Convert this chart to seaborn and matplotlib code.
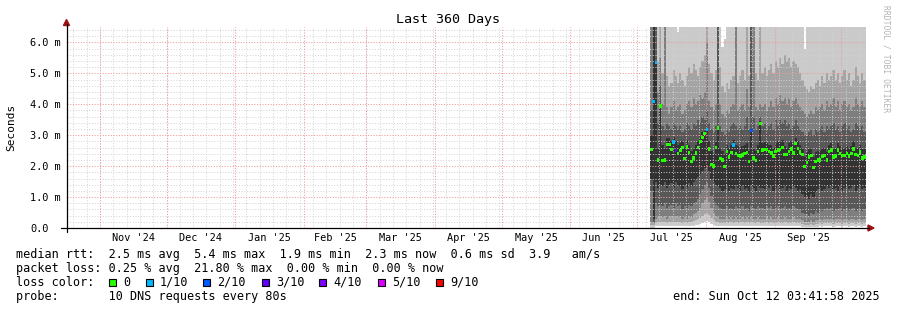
import numpy as np
import pandas as pd
import matplotlib
matplotlib.use("Agg")
import matplotlib.pyplot as plt
import matplotlib.dates as mdates
from matplotlib.patches import Rectangle, Polygon
from matplotlib.lines import Line2D
import seaborn as sns

# ---------------- data ----------------
view_start = pd.Timestamp("2024-10-17 03:41:58")
view_end = pd.Timestamp("2025-10-12 03:41:58")
first_day = "2025-07-07"

# sorted ping ranks (ms), one value per day from 2025-07-07
p10 = [7.0, 7.0, 7.0, 7.0, 7.0, 7.0, 7.0, 7.0, 7.0, 7.0,
       7.0, 7.0, 6.35, 7.0, 7.0, 7.0, 7.0, 7.0, 7.0, 7.0,
       7.0, 7.0, 7.0, 7.0, 7.0, 7.0, 7.0, 7.0, 7.0, 7.0,
       7.0, 7.0, 5.85, 6.1, 7.0, 7.0, 7.0, 7.0, 7.0, 7.0,
       7.0, 7.0, 7.0, 7.0, 7.0, 7.0, 7.0, 7.0, 7.0, 7.0,
       7.0, 7.0, 7.0, 7.0, 7.0, 7.0, 7.0, 7.0, 7.0, 7.0,
       7.0, 7.0, 7.0, 7.0, 7.0, 7.0, 7.0, 7.0, 7.0, 5.8,
       7.0, 7.0, 7.0, 7.0, 7.0, 7.0, 7.0, 7.0, 7.0, 7.0,
       7.0, 7.0, 7.0, 7.0, 7.0, 7.0, 7.0, 7.0, 7.0, 7.0,
       7.0, 7.0, 7.0, 7.0, 7.0, 7.0, 7.0, 7.0]
p9 = [7.0, 7.0, 7.0, 5.4, 7.0, 5.0, 4.8, 4.9, 4.6, 4.7,
      5.1, 4.9, 4.7, 5.0, 4.8, 4.6, 4.9, 5.2, 5.0, 5.3,
      5.1, 4.9, 5.2, 5.4, 5.6, 7.0, 5.3, 5.0, 4.8, 5.1,
      7.0, 5.2, 4.6, 4.4, 4.7, 4.5, 4.8, 4.9, 7.0, 4.7,
      4.9, 5.1, 4.8, 7.0, 4.9, 7.0, 7.0, 5.0, 4.8, 7.0,
      5.0, 5.2, 4.9, 5.1, 5.3, 5.0, 5.4, 5.2, 5.5, 5.3,
      5.6, 5.4, 5.5, 5.2, 5.4, 5.3, 5.2, 5.0, 4.8, 4.6,
      4.5, 4.4, 4.6, 4.5, 4.7, 4.8, 4.6, 4.9, 4.7, 5.0,
      4.8, 4.9, 5.1, 4.8, 5.0, 4.7, 4.9, 5.1, 4.8, 5.0,
      4.6, 4.8, 5.2, 4.9, 4.7, 5.0, 4.8, 5.1]
p8 = [7.0, 7.0, 7.0, 4.4, 5.5, 4.0, 7.0, 3.9, 3.7, 3.9,
      4.1, 3.8, 3.9, 4.0, 3.7, 3.8, 4.0, 4.1, 3.9, 4.2,
      4.0, 4.1, 4.3, 4.2, 4.4, 6.0, 4.1, 3.9, 3.8, 4.0,
      7.0, 4.0, 3.7, 3.6, 3.8, 3.7, 3.9, 4.0, 7.0, 3.8,
      3.9, 4.0, 3.8, 4.5, 3.9, 7.0, 7.0, 3.9, 3.8, 4.0,
      3.9, 4.0, 3.8, 3.9, 4.1, 3.9, 4.2, 4.0, 4.3, 4.1,
      4.2, 4.0, 4.2, 3.9, 4.1, 4.2, 4.0, 3.9, 3.8, 3.7,
      3.6, 3.7, 3.8, 3.7, 3.9, 3.8, 3.9, 4.0, 3.8, 4.1,
      3.9, 4.0, 4.2, 3.9, 4.1, 3.8, 4.0, 4.1, 3.9, 4.0,
      3.8, 3.9, 4.2, 4.0, 3.9, 4.1, 3.9, 4.0]
p7 = [3.8, 7.0, 7.0, 3.4, 4.6, 3.3, 3.2, 3.4, 3.3, 3.2,
      3.4, 3.3, 3.2, 3.3, 3.1, 3.2, 3.4, 3.3, 3.2, 3.4,
      3.3, 3.5, 3.4, 3.6, 3.5, 3.8, 3.4, 3.2, 3.1, 3.3,
      7.0, 3.3, 3.1, 3.0, 3.2, 3.1, 3.3, 3.4, 3.3, 3.2,
      3.3, 3.2, 3.3, 3.6, 3.2, 7.0, 3.6, 3.2, 3.3, 3.6,
      3.3, 3.4, 3.2, 3.3, 3.4, 3.2, 3.5, 3.3, 3.5, 3.4,
      3.5, 3.3, 3.4, 3.2, 3.3, 3.5, 3.3, 3.2, 3.1, 3.0,
      3.0, 3.1, 3.2, 3.0, 3.2, 3.1, 3.2, 3.3, 3.1, 3.3,
      3.2, 3.3, 3.4, 3.2, 3.3, 3.1, 3.3, 3.4, 3.2, 3.3,
      3.1, 3.2, 3.4, 3.3, 3.2, 3.3, 3.1, 3.2]
p6 = [3.0, 7.0, 5.4, 2.6, 4.0, 2.7, 2.6, 2.9, 2.9, 2.8,
      2.95, 2.8, 2.7, 2.75, 2.8, 2.6, 2.85, 2.7, 2.5, 2.6,
      2.7, 2.8, 2.95, 3.1, 3.15, 3.25, 2.8, 2.5, 2.4, 2.8,
      3.3, 2.6, 2.5, 2.4, 2.7, 2.6, 2.7, 2.85, 2.7, 2.65,
      2.6, 2.65, 2.7, 2.75, 2.5, 3.2, 2.6, 2.5, 2.7, 3.45,
      2.75, 2.8, 2.75, 2.7, 2.7, 2.6, 2.75, 2.8, 2.8, 2.85,
      2.65, 2.6, 2.75, 2.8, 2.7, 2.9, 2.8, 2.7, 2.6, 2.3,
      2.45, 2.55, 2.6, 2.3, 2.45, 2.5, 2.5, 2.6, 2.6, 2.45,
      2.7, 2.75, 2.55, 2.6, 2.75, 2.65, 2.6, 2.6, 2.65, 2.6,
      2.65, 2.8, 2.6, 2.6, 2.7, 2.55, 2.55, 2.55]
p5 = [1.6, 0.3, 1.5, 1.3, 1.4, 1.35, 1.5, 1.3, 1.4, 1.45,
      1.3, 1.5, 1.4, 1.35, 1.25, 1.4, 1.3, 1.45, 1.35, 1.5,
      1.55, 1.65, 1.75, 1.85, 1.95, 2.05, 1.85, 1.6, 1.45, 1.4,
      1.35, 1.3, 1.2, 1.25, 1.35, 1.2, 1.3, 1.25, 1.4, 1.3,
      1.2, 1.35, 1.25, 1.3, 1.15, 1.4, 1.3, 1.2, 1.35, 1.3,
      1.3, 1.25, 1.4, 1.3, 1.35, 1.2, 1.3, 1.4, 1.25, 1.3,
      1.35, 1.2, 1.3, 1.25, 1.35, 1.3, 1.2, 1.25, 1.1, 1.0,
      1.05, 0.95, 1.1, 1.0, 1.15, 1.25, 1.3, 1.2, 1.25, 1.35,
      1.3, 1.35, 1.25, 1.3, 1.2, 1.35, 1.2, 1.3, 1.35, 1.25,
      1.3, 1.4, 1.2, 1.3, 1.35, 1.25, 1.3, 1.35]
p4 = [1.2, 0.2, 0.8, 0.7, 0.75, 0.7, 0.8, 0.65, 0.7, 0.75,
      0.65, 0.8, 0.7, 0.75, 0.6, 0.7, 0.65, 0.75, 0.7, 0.8,
      0.85, 0.95, 1.1, 1.25, 1.4, 1.5, 1.3, 1.05, 0.85, 0.75,
      0.7, 0.65, 0.6, 0.6, 0.7, 0.6, 0.65, 0.6, 0.7, 0.65,
      0.6, 0.7, 0.6, 0.65, 0.55, 0.7, 0.65, 0.6, 0.7, 0.65,
      0.65, 0.6, 0.7, 0.65, 0.7, 0.6, 0.65, 0.7, 0.6, 0.65,
      0.7, 0.6, 0.65, 0.6, 0.7, 0.65, 0.6, 0.6, 0.5, 0.45,
      0.45, 0.4, 0.5, 0.45, 0.55, 0.5, 0.6, 0.55, 0.6, 0.65,
      0.6, 0.65, 0.55, 0.6, 0.6, 0.65, 0.55, 0.6, 0.65, 0.55,
      0.6, 0.65, 0.55, 0.6, 0.6, 0.55, 0.6, 0.6]
p3 = [0.2, 0.15, 0.3, 0.35, 0.4, 0.35, 0.4, 0.3, 0.35, 0.4,
      0.35, 0.4, 0.35, 0.4, 0.3, 0.35, 0.3, 0.4, 0.35, 0.45,
      0.5, 0.55, 0.65, 0.8, 0.9, 1.0, 0.85, 0.65, 0.5, 0.4,
      0.35, 0.3, 0.3, 0.3, 0.35, 0.3, 0.35, 0.3, 0.35, 0.3,
      0.3, 0.35, 0.3, 0.35, 0.3, 0.35, 0.3, 0.3, 0.35, 0.3,
      0.3, 0.3, 0.35, 0.3, 0.35, 0.3, 0.3, 0.35, 0.3, 0.3,
      0.35, 0.3, 0.3, 0.3, 0.35, 0.3, 0.3, 0.3, 0.25, 0.2,
      0.2, 0.2, 0.25, 0.2, 0.25, 0.25, 0.3, 0.25, 0.3, 0.3,
      0.3, 0.3, 0.25, 0.3, 0.3, 0.3, 0.25, 0.3, 0.3, 0.25,
      0.3, 0.3, 0.25, 0.3, 0.3, 0.25, 0.3, 0.3]
p2 = [0.1, 0.1, 0.15, 0.18, 0.2, 0.18, 0.2, 0.16, 0.18, 0.2,
      0.18, 0.2, 0.18, 0.2, 0.16, 0.18, 0.16, 0.2, 0.18, 0.22,
      0.25, 0.28, 0.32, 0.4, 0.45, 0.5, 0.42, 0.32, 0.25, 0.2,
      0.18, 0.16, 0.15, 0.16, 0.18, 0.15, 0.18, 0.16, 0.18, 0.16,
      0.16, 0.18, 0.16, 0.18, 0.15, 0.18, 0.16, 0.16, 0.18, 0.16,
      0.16, 0.16, 0.18, 0.16, 0.18, 0.16, 0.16, 0.18, 0.16, 0.16,
      0.18, 0.16, 0.16, 0.16, 0.18, 0.16, 0.16, 0.15, 0.13, 0.1,
      0.1, 0.1, 0.12, 0.1, 0.12, 0.12, 0.15, 0.12, 0.15, 0.15,
      0.15, 0.15, 0.12, 0.15, 0.15, 0.15, 0.12, 0.15, 0.15, 0.12,
      0.15, 0.15, 0.12, 0.15, 0.15, 0.12, 0.15, 0.15]
p1 = [0.0, 0.0, 0.05, 0.06, 0.07, 0.06, 0.07, 0.05, 0.06, 0.07,
      0.06, 0.07, 0.06, 0.07, 0.05, 0.06, 0.05, 0.07, 0.06, 0.08,
      0.09, 0.1, 0.12, 0.16, 0.19, 0.22, 0.18, 0.13, 0.1, 0.08,
      0.06, 0.05, 0.05, 0.05, 0.06, 0.05, 0.06, 0.05, 0.06, 0.05,
      0.05, 0.06, 0.05, 0.06, 0.05, 0.06, 0.05, 0.05, 0.06, 0.05,
      0.05, 0.05, 0.06, 0.05, 0.06, 0.05, 0.05, 0.06, 0.05, 0.05,
      0.06, 0.05, 0.05, 0.05, 0.06, 0.05, 0.05, 0.05, 0.04, 0.03,
      0.03, 0.03, 0.04, 0.03, 0.04, 0.04, 0.05, 0.04, 0.05, 0.05,
      0.05, 0.05, 0.04, 0.05, 0.05, 0.05, 0.04, 0.05, 0.05, 0.04,
      0.05, 0.05, 0.04, 0.05, 0.05, 0.04, 0.05, 0.05]
median_ms = [2.54, 4.1, 5.35, 2.2, 3.95, 2.18, 2.2, 2.7, 2.7, 2.54,
             2.78, 2.5, 2.4, 2.5, 2.6, 2.25, 2.62, 2.45, 2.15, 2.27,
             2.42, 2.6, 2.8, 2.92, 3.05, 3.19, 2.55, 2.05, 2.0, 2.6,
             3.24, 2.25, 2.2, 1.98, 2.48, 2.3, 2.45, 2.68, 2.4, 2.35,
             2.32, 2.36, 2.41, 2.44, 2.16, 3.16, 2.27, 2.19, 2.48, 3.38,
             2.52, 2.53, 2.54, 2.48, 2.43, 2.33, 2.47, 2.52, 2.54, 2.6,
             2.38, 2.38, 2.48, 2.55, 2.42, 2.73, 2.57, 2.46, 2.38, 1.98,
             2.12, 2.3, 2.35, 1.95, 2.16, 2.2, 2.2, 2.32, 2.35, 2.2,
             2.48, 2.52, 2.3, 2.33, 2.52, 2.41, 2.35, 2.35, 2.41, 2.33,
             2.41, 2.56, 2.38, 2.35, 2.46, 2.27, 2.3, 2.3]
loss_tenths = [0, 1, 1, 0, 0, 0, 0, 0, 0, 0,
               1, 3, 0, 0, 0, 0, 0, 0, 0, 0,
               0, 0, 0, 0, 0, 1, 0, 0, 0, 0,
               0, 0, 0, 0, 0, 0, 0, 1, 0, 0,
               0, 0, 0, 0, 0, 2, 0, 0, 0, 0,
               0, 0, 0, 0, 0, 0, 0, 0, 0, 0,
               0, 0, 0, 0, 0, 0, 0, 0, 0, 0,
               0, 0, 0, 0, 0, 0, 0, 0, 0, 0,
               0, 0, 0, 0, 0, 0, 0, 0, 0, 0,
               0, 0, 0, 0, 0, 0, 0, 0]

legend_levels = [0, 1, 2, 3, 4, 5, 9]
legend_labels = ["0", "1/10", "2/10", "3/10", "4/10", "5/10", "9/10"]
loss_palette = {0: "#26ff00", 1: "#00b8ff", 2: "#0059ff", 3: "#5e00ff",
                4: "#7e00ff", 5: "#dd00ff", 9: "#ff0000"}

y_ticks = [0, 1, 2, 3, 4, 5, 6]
y_tick_labels = ["0.0", "1.0 m", "2.0 m", "3.0 m", "4.0 m", "5.0 m", "6.0 m"]

title = "Last 360 Days"
stat_lines = [
    "median rtt:  2.5 ms avg  5.4 ms max  1.9 ms min  2.3 ms now  0.6 ms sd  3.9   am/s",
    "packet loss: 0.25 % avg  21.80 % max  0.00 % min  0.00 % now",
    "loss color:",
    "probe:       10 DNS requests every 80s",
]
end_text = "end: Sun Oct 12 03:41:58 2025"

# ---------------- style ----------------
sns.set_theme(style="white")
plt.rcParams["font.family"] = ["DejaVu Sans Mono", "DejaVu Sans"]

W, H = 897, 310
fig = plt.figure(figsize=(W / 100, H / 100), dpi=100)
fig.patch.set_facecolor("white")
L, R, T, B = 67, 866, 27, 228
ax = fig.add_axes([L / W, 1 - B / H, (R - L) / W, (B - T) / H])
ax.set_facecolor("white")
for s in ax.spines.values():
    s.set_visible(False)


def fx(px):
    return px / W


def fy(py):
    return 1 - py / H


# ---------------- smoke ----------------
days = pd.date_range(first_day, periods=len(median_ms), freq="D")
edges = mdates.date2num(list(days) + [view_end])


def ext(a):
    a = np.asarray(a, dtype=float)
    return np.append(a, a[-1])


smoke = [(p1, p10, "#cacaca"), (p2, p9, "#a4a4a4"), (p3, p8, "#7e7e7e"),
         (p4, p7, "#585858"), (p5, p6, "#323232")]
for i, (lo, hi, col) in enumerate(smoke):
    ax.fill_between(edges, ext(lo), ext(hi), step="post", color=col,
                    linewidth=0, zorder=1 + i * 0.1)

# ---------------- grid ----------------
x0 = mdates.date2num(view_start)
x1 = mdates.date2num(view_end)
month_starts = pd.date_range("2024-11-01", "2025-10-01", freq="MS")
minor_days = pd.date_range("2024-10-20", view_end, freq="6D")
minor_col = "#d2d2d2"
major_col = "#f29a9a"
for d in minor_days:
    ax.axvline(mdates.date2num(d), color=minor_col, lw=0.7,
               ls=(0, (1, 1.8)), zorder=3)
for yv in np.arange(0.2, 6.5, 0.2):
    if abs(yv - round(yv)) > 1e-6:
        ax.axhline(yv, color=minor_col, lw=0.7, ls=(0, (1, 1.8)), zorder=3)
for d in month_starts:
    ax.axvline(mdates.date2num(d), color=major_col, lw=0.75,
               ls=(0, (1, 1.6)), zorder=3.1)
for yv in y_ticks[1:]:
    ax.axhline(yv, color=major_col, lw=0.75, ls=(0, (1, 1.6)), zorder=3.1)

# ---------------- median markers ----------------
mid = edges[:-1] + np.diff(edges) / 2
dfm = pd.DataFrame({"t": mid, "median": median_ms, "loss": loss_tenths})
rect_marker = [(-0.75, -1), (0.75, -1), (0.75, 1), (-0.75, 1), (-0.75, -1)]
sns.scatterplot(data=dfm, x="t", y="median", hue="loss", palette=loss_palette,
                marker=rect_marker, s=6.0, linewidth=0, legend=False,
                ax=ax, zorder=5)

# ---------------- axes / ticks ----------------
ax.set_xlim(x0, x1)
ax.set_ylim(0, 6.5)
ax.set_xlabel("")
ax.set_ylabel("")
mids, mlabels = [], []
for ms in pd.date_range("2024-10-01", "2025-10-01", freq="MS"):
    nxt = ms + pd.offsets.MonthBegin(1)
    m = ms + (nxt - ms) / 2
    if view_start <= m <= view_end:
        mids.append(mdates.date2num(m))
        mlabels.append(ms.strftime("%b '%y"))
ax.set_xticks(mids)
ax.set_xticklabels(mlabels, fontsize=7.4, color="black")
ax.set_yticks(y_ticks)
ax.set_yticklabels(y_tick_labels, fontsize=7.4, color="black")
for t in ax.get_yticklabels():
    t.set_horizontalalignment("left")
ax.tick_params(axis="y", length=0, pad=26.6)
ax.tick_params(axis="x", length=0, pad=3.5)

# axis lines and arrows
fig.add_artist(Line2D([fx(61), fx(869)], [fy(228), fy(228)], color="black",
                      lw=0.9, transform=fig.transFigure))
fig.add_artist(Line2D([fx(66.5), fx(66.5)], [fy(232), fy(24)], color="black",
                      lw=0.9, transform=fig.transFigure))
fig.add_artist(Polygon([[fx(868), fy(225)], [fx(874), fy(228)], [fx(868), fy(231)]],
                       closed=True, color="#a01010", transform=fig.transFigure))
fig.add_artist(Polygon([[fx(63.5), fy(25.5)], [fx(66.5), fy(19.5)], [fx(69.5), fy(25.5)]],
                       closed=True, color="#a01010", transform=fig.transFigure))

# ---------------- texts ----------------
fig.text(fx(448), fy(19.5), title, ha="center", va="center", fontsize=9.6,
         color="black")
fig.text(fx(11), fy(127), "Seconds", rotation=90, ha="center", va="center",
         fontsize=8, color="black")
fig.text(fx(886), fy(59), "RRDTOOL / TOBI OETIKER", rotation=270, ha="center",
         va="center", fontsize=5.8, color="#b4b4b4")

rows_y = [254.3, 268.3, 282.3, 296.3]
for line, yy in zip(stat_lines, rows_y):
    fig.text(fx(16), fy(yy), line, ha="left", va="center", fontsize=8.5,
             color="black")
fig.text(fx(880), fy(296.3), end_text, ha="right", va="center", fontsize=8.5,
         color="black")

box_left = [108.7, 145.7, 203.3, 262, 319.3, 377.7, 435.7]
for bl, lvl, lab in zip(box_left, legend_levels, legend_labels):
    fig.add_artist(Rectangle((fx(bl), fy(285.5)), 7 / W, 7 / H,
                             facecolor=loss_palette[lvl], edgecolor="black",
                             lw=0.8, transform=fig.transFigure))
    fig.text(fx(bl + 14.3), fy(282.3), lab, ha="left", va="center",
             fontsize=8.5, color="black")

fig.savefig("out.png", dpi=100, facecolor="white")
